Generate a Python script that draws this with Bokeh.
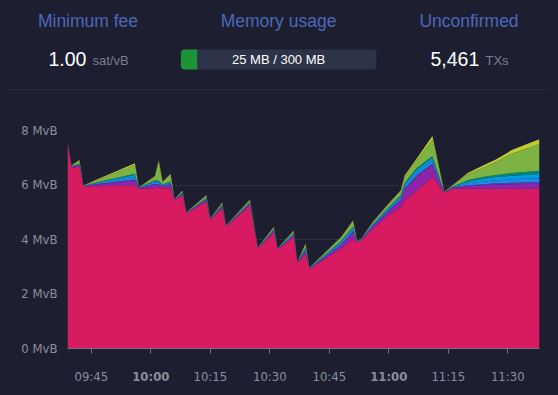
from bokeh.plotting import figure
from bokeh.models import ColumnDataSource, Range1d, FixedTicker
from bokeh.embed import file_html
from bokeh.resources import INLINE
from bokeh.core.properties import value

BG = "#1d1f31"

# ---- header stats ----
titles = ["Minimum fee", "Memory usage", "Unconfirmed"]
min_fee = 1.00
fee_unit = "sat/vB"
mem_used = 25
mem_max = 300
unconfirmed = 5461
tx_unit = "TXs"

# ---- mempool chart data (MvB per fee band) ----
times = ["09:39", "09:40", "09:42", "09:43", "09:47", "09:56", "09:57", "10:01", "10:02", "10:03",
         "10:05", "10:06", "10:08", "10:09", "10:14", "10:15", "10:18", "10:19", "10:25", "10:27",
         "10:31", "10:32", "10:36", "10:37", "10:39", "10:40", "10:48", "10:51", "10:52", "10:53",
         "10:56", "11:00", "11:03", "11:04", "11:07", "11:11", "11:14", "11:16", "11:20", "11:24",
         "11:27", "11:31", "11:35", "11:38"]
pink = [7.58, 6.62, 6.68, 5.95, 5.95, 5.98, 5.86, 5.88, 5.90, 5.88,
        5.88, 5.45, 5.62, 4.96, 5.40, 4.72, 5.15, 4.48, 5.25, 3.68,
        4.25, 3.64, 4.08, 3.15, 3.47, 2.93, 3.66, 4.02, 3.90, 3.96,
        4.39, 4.88, 5.19, 5.43, 5.80, 6.29, 5.72, 5.86, 5.86, 5.86,
        5.86, 5.86, 5.86, 5.86]
purple = [0.01, 0.03, 0.05, 0.01, 0.08, 0.19, 0.02, 0.14, 0.10, 0.08,
          0.13, 0.02, 0.05, 0.01, 0.06, 0.01, 0.06, 0.01, 0.06, 0.01,
          0.06, 0.01, 0.07, 0.02, 0.10, 0.01, 0.14, 0.25, 0.02, 0.03,
          0.10, 0.17, 0.25, 0.40, 0.50, 0.45, 0.01, 0.03, 0.10, 0.13,
          0.15, 0.17, 0.18, 0.18]
indigo = [0.00, 0.01, 0.01, 0.00, 0.02, 0.03, 0.01, 0.02, 0.02, 0.01,
          0.02, 0.00, 0.01, 0.00, 0.01, 0.00, 0.01, 0.00, 0.01, 0.00,
          0.01, 0.00, 0.01, 0.00, 0.02, 0.00, 0.02, 0.03, 0.00, 0.00,
          0.01, 0.02, 0.03, 0.03, 0.05, 0.04, 0.00, 0.01, 0.03, 0.04,
          0.05, 0.05, 0.06, 0.06]
blue = [0.00, 0.01, 0.02, 0.01, 0.03, 0.10, 0.01, 0.06, 0.05, 0.02,
        0.05, 0.01, 0.02, 0.01, 0.03, 0.01, 0.03, 0.01, 0.03, 0.01,
        0.03, 0.01, 0.04, 0.01, 0.05, 0.01, 0.06, 0.08, 0.01, 0.01,
        0.04, 0.05, 0.06, 0.09, 0.10, 0.12, 0.01, 0.02, 0.07, 0.10,
        0.11, 0.13, 0.14, 0.15]
cyan = [0.01, 0.01, 0.02, 0.00, 0.03, 0.08, 0.01, 0.05, 0.04, 0.02,
        0.04, 0.01, 0.02, 0.01, 0.02, 0.01, 0.02, 0.01, 0.02, 0.01,
        0.02, 0.01, 0.03, 0.01, 0.04, 0.01, 0.05, 0.07, 0.01, 0.01,
        0.03, 0.05, 0.06, 0.08, 0.10, 0.10, 0.00, 0.01, 0.07, 0.10,
        0.12, 0.13, 0.14, 0.15]
teal = [0.00, 0.01, 0.01, 0.00, 0.01, 0.03, 0.00, 0.02, 0.05, 0.01,
        0.02, 0.00, 0.01, 0.00, 0.01, 0.00, 0.01, 0.00, 0.01, 0.00,
        0.01, 0.00, 0.01, 0.00, 0.02, 0.00, 0.02, 0.03, 0.00, 0.00,
        0.01, 0.02, 0.03, 0.04, 0.07, 0.06, 0.00, 0.01, 0.05, 0.07,
        0.08, 0.10, 0.11, 0.12]
green = [0.01, 0.02, 0.09, 0.01, 0.08, 0.33, 0.01, 0.12, 0.68, 0.08,
         0.22, 0.01, 0.05, 0.01, 0.06, 0.01, 0.05, 0.01, 0.05, 0.01,
         0.05, 0.01, 0.05, 0.01, 0.10, 0.01, 0.12, 0.18, 0.01, 0.01,
         0.05, 0.10, 0.14, 0.22, 0.28, 0.60, 0.02, 0.03, 0.22, 0.35,
         0.47, 0.71, 0.86, 0.98]
lime = [0.01, 0.01, 0.04, 0.00, 0.04, 0.06, 0.00, 0.03, 0.06, 0.02,
        0.04, 0.00, 0.02, 0.00, 0.03, 0.01, 0.03, 0.00, 0.03, 0.00,
        0.03, 0.00, 0.03, 0.00, 0.04, 0.00, 0.02, 0.04, 0.00, 0.00,
        0.02, 0.03, 0.04, 0.06, 0.06, 0.14, 0.00, 0.01, 0.05, 0.08,
        0.10, 0.13, 0.16, 0.18]

layer_names = ["pink", "purple", "indigo", "blue", "cyan", "teal", "green", "lime"]
layer_colors = ["#D81B60", "#8E24AA", "#5E35B1", "#1E88E5", "#039BE5", "#00897B", "#7CB342", "#C0CA33"]

tick_times = ["09:45", "10:00", "10:15", "10:30", "10:45", "11:00", "11:15", "11:30"]
bold_ticks = ["10:00", "11:00"]
y_ticks = [0, 2, 4, 6, 8]
y_unit = "MvB"


def to_min(s):
    h, m = s.split(":")
    return int(h) * 60 + int(m)


x = [to_min(t) for t in times]
source = ColumnDataSource(dict(x=x, pink=pink, purple=purple, indigo=indigo, blue=blue,
                               cyan=cyan, teal=teal, green=green, lime=lime))

W = 558
AXIS_COLOR = "#6e7282"
LABEL_COLOR = "#8b8e9c"


def blank(fig):
    fig.xgrid.visible = False
    fig.ygrid.visible = False
    return fig


# ---------------- header: page pixels 0..558 x 0..90 ----------------
HH = 90
hdr = blank(figure(width=W, height=HH, x_range=Range1d(0, W), y_range=Range1d(HH, 0),
                   toolbar_location=None, output_backend="svg", x_axis_type=None, y_axis_type=None,
                   min_border=0, background_fill_color=BG, border_fill_color=BG,
                   outline_line_color=None))

hdr.text(x=[87.5, 278, 468.5], y=[20.5] * 3, text=titles, text_align="center",
         text_baseline="middle", text_font=value("Liberation Sans"),
         text_font_size="17.5px", text_color="#4a68b9")
hdr.text(x=[48, 430], y=[58, 58], text=[f"{min_fee:.2f}", f"{unconfirmed:,}"],
         text_align="left", text_baseline="middle", text_font=value("Liberation Sans"),
         text_font_size="19.5px", text_color="#ffffff")
hdr.text(x=[92, 485], y=[60, 60], text=[fee_unit, tx_unit],
         text_align="left", text_baseline="middle", text_font=value("Liberation Sans"),
         text_font_size="13px", text_color="#7b7e8b")

bar_l, bar_r = 180.4, 375.8
hdr.quad(left=[bar_l], right=[bar_r], top=[49], bottom=[69], fill_color="#2d3348",
         line_color=None, border_radius=4)
hdr.quad(left=[bar_l], right=[bar_l + (bar_r - bar_l) * mem_used / mem_max], top=[49], bottom=[69],
         fill_color="#1a9436", line_color=None, border_radius=(4, 0, 0, 4))
hdr.text(x=[(bar_l + bar_r) / 2], y=[59], text=[f"{mem_used} MB / {mem_max} MB"],
         text_align="center", text_baseline="middle", text_font=value("Liberation Sans"),
         text_font_size="13px", text_color="#ffffff")
hdr.segment(x0=[6], y0=[89.5], x1=[549], y1=[89.5], line_color="#363a4d", line_width=1)

# ---------------- chart: page y 90..368, frame x 67..539, y 130..348 ----------------
shared_x = Range1d(x[0], x[-1])
p = figure(width=W, height=278, x_range=shared_x, y_range=Range1d(0, 8),
           toolbar_location=None, output_backend="svg",
           min_border_left=67, min_border_right=19, min_border_top=40, min_border_bottom=20,
           background_fill_color=BG, border_fill_color=BG, outline_line_color=None)

p.varea_stack(stackers=layer_names, x="x", color=layer_colors, source=source)

p.xgrid.visible = False
p.ygrid.ticker = FixedTicker(ticks=y_ticks[1:])
p.ygrid.grid_line_color = "#3d4154"
p.ygrid.grid_line_dash = "2 2"
p.ygrid.grid_line_width = 1

ay = p.yaxis[0]
ay.ticker = FixedTicker(ticks=y_ticks)
ay.major_label_overrides = {v: f"{v} {y_unit}" for v in y_ticks}
ay.axis_line_color = None
ay.major_tick_line_color = None
ay.major_tick_out = 0
ay.major_tick_in = 0
ay.minor_tick_line_color = None
ay.major_label_standoff = 10
ay.major_label_text_color = LABEL_COLOR
ay.major_label_text_font = "DejaVu Sans"
ay.major_label_text_font_size = "11.7px"

tick_vals = [to_min(t) for t in tick_times]
ax = p.xaxis[0]
ax.ticker = FixedTicker(ticks=tick_vals)
ax.major_label_overrides = {v: "" for v in tick_vals}
ax.major_label_text_font_size = "0px"
ax.major_label_standoff = 0
ax.axis_line_color = AXIS_COLOR
ax.major_tick_line_color = AXIS_COLOR
ax.major_tick_out = 5
ax.major_tick_in = 0
ax.minor_tick_line_color = None

# ---------------- tick labels row: page y 368..395, same x scale ----------------
FH = 27
ftr = blank(figure(width=W, height=FH, x_range=shared_x, y_range=Range1d(0, FH),
                   toolbar_location=None, output_backend="svg", x_axis_type=None, y_axis_type=None,
                   min_border_left=67, min_border_right=19, min_border_top=0, min_border_bottom=0,
                   background_fill_color=BG, border_fill_color=BG, outline_line_color=None))
reg = [t for t in tick_times if t not in bold_ticks]
ftr.text(x=[to_min(t) for t in reg], y=[18.3] * len(reg), text=reg, text_align="center",
         text_baseline="middle", text_font=value("DejaVu Sans"), text_font_size="11.7px",
         text_color=LABEL_COLOR)
ftr.text(x=[to_min(t) for t in bold_ticks], y=[18.3] * len(bold_ticks), text=bold_ticks,
         text_align="center", text_baseline="middle", text_font=value("DejaVu Sans"),
         text_font_size="11.7px", text_font_style="bold", text_color=LABEL_COLOR)

tmpl = """{% block preamble %}<style>html, body { margin: 0; padding: 0; background: #1d1f31; overflow: hidden; }</style>{% endblock %}"""
open("out.html", "w").write(file_html([hdr, p, ftr], INLINE, title="Mempool", template=tmpl))
